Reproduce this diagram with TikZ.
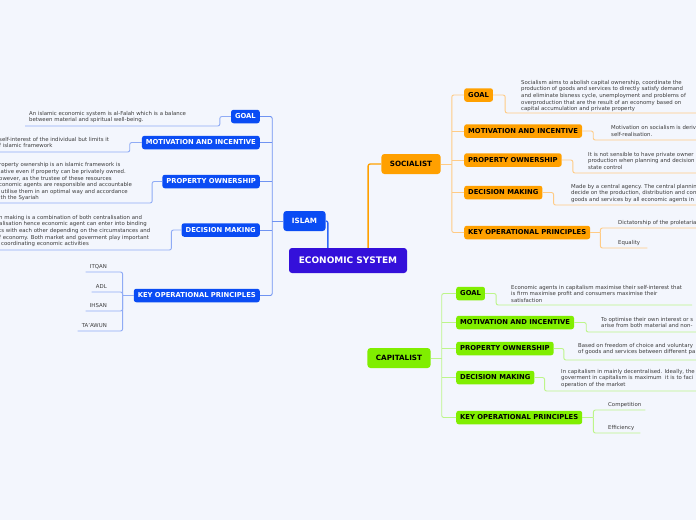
\documentclass[tikz,border=0pt]{standalone}
\usepackage{fontspec}
\setmainfont{DejaVu Sans}
\usetikzlibrary{positioning,calc}
\definecolor{PageBg}{HTML}{F3F6FD}
\definecolor{RootViolet}{HTML}{3410DA}
\definecolor{IslamBlue}{HTML}{0A4CF4}
\definecolor{IslamLine}{HTML}{6F93F2}
\definecolor{IslamLeaf}{HTML}{8FABF5}
\definecolor{SocOrange}{HTML}{FFA000}
\definecolor{SocLine}{HTML}{FFCB85}
\definecolor{CapGreen}{HTML}{80EE00}
\definecolor{CapLine}{HTML}{BDF58A}
\definecolor{LeafText}{HTML}{3C3C3C}
\tikzset{
  rootbox/.style={rounded corners=3pt, fill=RootViolet, text=white, font=\fontsize{9}{10}\selectfont\bfseries, minimum width=118pt, minimum height=25pt, inner sep=0pt},
  topicbox/.style={rounded corners=3pt, font=\fontsize{7.2}{8}\selectfont\bfseries, minimum height=20pt, inner xsep=8.5pt, inner ysep=0pt},
  subbox/.style={rounded corners=2.5pt, font=\fontsize{6.8}{8}\selectfont\bfseries, minimum height=13.5pt, inner xsep=4pt, inner ysep=0pt},
  islambox/.style={subbox, fill=IslamBlue, text=white, anchor=east},
  socbox/.style={subbox, fill=SocOrange, text=black, anchor=west},
  capbox/.style={subbox, fill=CapGreen, text=black, anchor=west},
  leaf/.style={anchor=base west, align=left, inner sep=0pt, text=LeafText, font=\fontsize{5.4}{6.6}\selectfont},
  leafblock/.style={leaf, anchor=north west},
  rootlink/.style={line width=1.3pt, rounded corners=2pt},
  islamlink/.style={draw=IslamLine, line width=0.9pt, rounded corners=2pt},
  islamleaf/.style={draw=IslamLeaf, line width=0.9pt, rounded corners=2pt},
  soclink/.style={draw=SocLine, line width=0.9pt, rounded corners=2pt},
  capleaf/.style={draw=CapLine, line width=0.9pt, rounded corners=2pt}
}

\begin{document}
\begin{tikzpicture}[x=1pt, y=-1pt]
    \useasboundingbox[fill=PageBg] (0,0) rectangle (696,520);
    \clip (0,0) rectangle (696,520);

    \node[rootbox] (econ) at (348,260.5) {ECONOMIC SYSTEM};
    \node[topicbox, fill=IslamBlue, text=white] (islam) at (304.5,221) {ISLAM};
    \node[topicbox, fill=SocOrange] (soc) at (411,164) {SOCIALIST};
    \node[topicbox, fill=CapGreen] (cap) at (399,358) {CAPITALIST};

    \node[islambox] (igoal) at (260,116.5) {GOAL};
    \node[islambox] (imot) at (260,142.5) {MOTIVATION AND INCENTIVE};
    \node[islambox] (iprop) at (260,181.5) {PROPERTY OWNERSHIP};
    \node[islambox] (idec) at (260,230) {DECISION MAKING};
    \node[islambox] (ikey) at (260,295.5) {KEY OPERATIONAL PRINCIPLES};

    \node[leafblock] (igoaltxt) at (29,111) {An islamic economic system is al-Falah which is a balance\\between material and spiritual well-being.};
    \node[leafblock] (imottxt) at (-1,137) {self-interest of the individual but limits it\\f islamic framework};
    \node[leafblock] (iproptxt) at (-1,162.5) {roperty ownership is an islamic framework is\\lative even if property can be privately owned.\\owever, as the trustee of these resources\\conomic agents are responsible and accountable\\\hspace{2pt}utilise them in an optimal way and accordance\\ith the Syariah};
    \node[leafblock] (idectxt) at (-1,215) {n making is a combination of both centralisation and\\alisation hence economic agent can enter into binding\\ts with each other depending on the circumstances and\\f economy. Both market and goverment play important\\\hspace{2pt}coordinating economic activities};
    \node[leaf, anchor=base east] (itqan) at (107,268) {ITQAN};
    \node[leaf, anchor=base east] (adl) at (107,288) {ADL};
    \node[leaf, anchor=base east] (ihsan) at (107,307) {IHSAN};
    \node[leaf, anchor=base east] (taawun) at (107,327) {TA'AWUN};

    \node[socbox] (sgoal) at (464,95) {GOAL};
    \node[socbox] (smot) at (464,131) {MOTIVATION AND INCENTIVE};
    \node[socbox] (sprop) at (464,160) {PROPERTY OWNERSHIP};
    \node[socbox] (sdec) at (464,192.5) {DECISION MAKING};
    \node[socbox] (skey) at (464,232.5) {KEY OPERATIONAL PRINCIPLES};

    \node[leafblock] (sgoaltxt) at (521,80) {Socialism aims to abolish capital ownership, coordinate the\\production of goods and services to directly satisfy demand\\and eliminate bisness cycle, unemployment and problems of\\overproduction that are the result of an economy based on\\capital accumulation and private property};
    \node[leafblock] (smottxt) at (611,125.5) {Motivation on socialism is deriv\\self-realisation.};
    \node[leafblock] (sproptxt) at (588,152) {It is not sensible to have private owner\\production when planning and decision\\state control};
    \node[leafblock] (sdectxt) at (571,184) {Made by a central agency. The central planning\\decide on the production, distribution and con\\goods and services by all economic agents in};
    \node[leaf] (dictat) at (618,224) {Dictatorship of the proletaria};
    \node[leaf] (equal) at (618,244) {Equality};

    \node[capbox] (cgoal) at (456,293.5) {GOAL};
    \node[capbox] (cmot) at (456,322.5) {MOTIVATION AND INCENTIVE};
    \node[capbox] (cprop) at (456,348.5) {PROPERTY OWNERSHIP};
    \node[capbox] (cdec) at (456,377.5) {DECISION MAKING};
    \node[capbox] (ckey) at (456,417.5) {KEY OPERATIONAL PRINCIPLES};

    \node[leafblock] (cgoaltxt) at (511,285) {Economic agents in capitalism maximise their self-interest that\\is firm maximise profit and consumers maximise their\\satisfaction};
    \node[leafblock] (cmottxt) at (601,317) {To optimise their own interest or s\\arise from both material and non-};
    \node[leafblock] (cproptxt) at (578,343) {Based on freedom of choice and voluntary\\of goods and services between different pa};
    \node[leafblock] (cdectxt) at (561,369) {In capitalism in mainly decentralised. Ideally, the\\goverment in capitalism is maximum\ \ it is to faci\\operation of the market};
    \node[leaf] (compet) at (608,406) {Competition};
    \node[leaf] (effic) at (608,429) {Efficiency};

    \coordinate (igoalend) at (25,126);
    \coordinate (imotend) at (-5,152);
    \coordinate (ipropend) at (-5,203);
    \coordinate (idecend) at (-5,250);
    \coordinate (sgoalend) at (700,113);
    \coordinate (smotend) at (700,140);
    \coordinate (spropend) at (700,173);
    \coordinate (sdecend) at (700,205);
    \coordinate (dictend) at (700,228);
    \coordinate (cgoalend) at (692,305);
    \coordinate (cmotend) at (700,332);
    \coordinate (cpropend) at (700,360);
    \coordinate (cdecend) at (700,391);

    \draw[rootlink, draw=IslamBlue!85!white] (islam.east) -| ($(econ.north west)!.33!(econ.north east)$);
    \draw[rootlink, draw=SocOrange] (soc.west) -| ($(econ.north west)!.67!(econ.north east)$);
    \draw[rootlink, draw=CapGreen] ($(cap.north west)+(1,0)$ |- econ.south) -- ($(cap.north west)+(1,0)$);

    \draw[islamlink] (islam.west) -- ++(-11,0) coordinate (itrunk);
    \draw[islamlink] (igoal.east) -| (itrunk) |- (ikey.east);
    \draw[islamlink] (imot.east) -- (imot.east -| itrunk);
    \draw[islamlink] (iprop.east) -- (iprop.east -| itrunk);
    \draw[islamlink] (idec.east) -- (idec.east -| itrunk);

    \draw[islamleaf] (igoal.west) -- ++(-11,0) |- (igoalend);
    \draw[islamleaf] (imot.west) -- ++(-12,0) |- (imotend);
    \draw[islamleaf] (iprop.west) -- ++(-10,0) |- (ipropend);
    \draw[islamleaf] (idec.west) -- ++(-10,0) |- (idecend);
    \draw[islamleaf] (ikey.west) -- ++(-11,0) coordinate (ikeyfork);
    \draw[islamleaf] (ikeyfork) |- ($(itqan.base west)+(-4,4)$);
    \draw[islamleaf] (ikeyfork) |- ($(adl.base west)+(-4,4)$);
    \draw[islamleaf] (ikeyfork) |- ($(ihsan.base west)+(-4,4)$);
    \draw[islamleaf] (ikeyfork) |- ($(taawun.base west)+(-4,4)$);

    \draw[soclink] (soc.east) -- ++(11,0) coordinate (strunk);
    \draw[soclink] (sgoal.west) -| (strunk) |- (skey.west);
    \draw[soclink] (smot.west) -- (smot.west -| strunk);
    \draw[soclink] (sprop.west) -- (sprop.west -| strunk);
    \draw[soclink] (sdec.west) -- (sdec.west -| strunk);
    \draw[soclink] (sgoal.east) -- ++(12,0) |- (sgoalend);
    \draw[soclink] (smot.east) -- ++(11,0) |- (smotend);
    \draw[soclink] (sprop.east) -- ++(11,0) |- (spropend);
    \draw[soclink] (sdec.east) -- ++(11,0) |- (sdecend);
    \draw[soclink] (skey.east) -- ++(10,0) coordinate (skeyfork);
    \draw[soclink] (skeyfork) |- (dictend);
    \draw[soclink] (skeyfork) |- ($(equal.base east)+(7,4)$);

    \draw[capleaf] (cap.east) -- ++(11,0) coordinate (ctrunk);
    \draw[capleaf] (cgoal.west) -| (ctrunk) |- (ckey.west);
    \draw[capleaf] (cmot.west) -- (cmot.west -| ctrunk);
    \draw[capleaf] (cprop.west) -- (cprop.west -| ctrunk);
    \draw[capleaf] (cdec.west) -- (cdec.west -| ctrunk);
    \draw[capleaf] (cgoal.east) -- ++(11,0) |- (cgoalend);
    \draw[capleaf] (cmot.east) -- ++(12,0) |- (cmotend);
    \draw[capleaf] (cprop.east) -- ++(10,0) |- (cpropend);
    \draw[capleaf] (cdec.east) -- ++(10,0) |- (cdecend);
    \draw[capleaf] (ckey.east) -- ++(11,0) coordinate (ckeyfork);
    \draw[capleaf] (ckeyfork) |- ($(compet.base east)+(4,4)$);
    \draw[capleaf] (ckeyfork) |- ($(effic.base east)+(6,4)$);
\end{tikzpicture}
\end{document}
